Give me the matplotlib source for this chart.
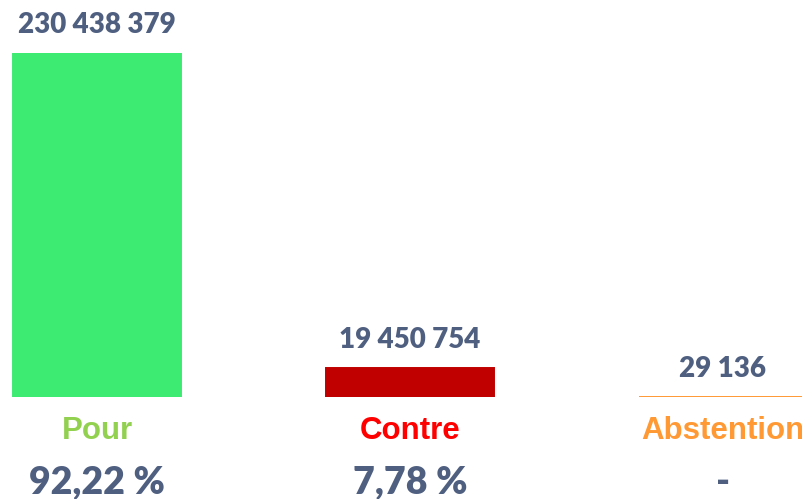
import matplotlib.pyplot as plt

# Données du vote
categories = ["Pour", "Contre", "Abstention"]
voix = [230438379, 19450754, 29136]
voix_labels = ["230 438 379", "19 450 754", "29 136"]
pourcentages = ["92,22 %", "7,78 %", "-"]

COULEURS_BARRES = ["#3deb73", "#c00000", "#ff9933"]
COULEURS_CATEGORIES = ["#92d050", "#ff0000", "#ff9933"]
COULEUR_TEXTE = "#4f5f80"

W, H = 803, 499
fig = plt.figure(figsize=(W / 100, H / 100), dpi=100)

# Axe placé en pixels : base des barres à y=397, sommet de "Pour" à y=53
base_px, top_px = 397, 53
ax = fig.add_axes([0, (H - base_px) / H, 1, (base_px - top_px) / H])
ax.axis("off")

espacement = 313
centre0 = 97
x = list(range(len(categories)))
ax.bar(x, voix, width=168 / espacement, color=COULEURS_BARRES,
       edgecolor=COULEURS_BARRES, linewidth=1.4)
ax.set_xlim(-centre0 / espacement, (W - centre0) / espacement)
ax.set_ylim(0, voix[0])

police_chiffres = ["Lato", "DejaVu Sans"]

for i, v in enumerate(voix):
    ax.annotate(voix_labels[i], xy=(i, v), xytext=(0, 20), textcoords="offset points",
                ha="center", va="center", fontsize=20, fontweight="heavy",
                color=COULEUR_TEXTE, family=police_chiffres, annotation_clip=False)
    ax.annotate(categories[i], xy=(i, 0), xytext=(0, -24.5), textcoords="offset points",
                ha="center", va="center", fontsize=22.5, fontweight="bold",
                color=COULEURS_CATEGORIES[i], family="Liberation Sans", annotation_clip=False)
    ax.annotate(pourcentages[i], xy=(i, 0), xytext=(0, -61), textcoords="offset points",
                ha="center", va="center", fontsize=27, fontweight="heavy",
                color=COULEUR_TEXTE, family=police_chiffres, annotation_clip=False)

plt.savefig("out.png", dpi=100)
